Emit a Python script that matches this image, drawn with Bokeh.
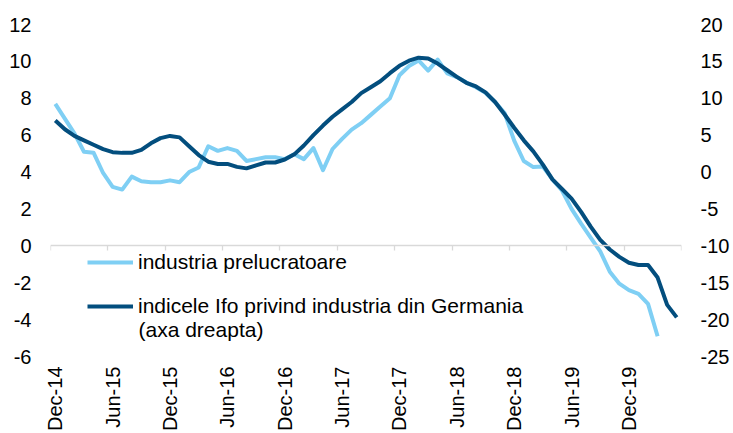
import math
from bokeh.plotting import figure
from bokeh.models import (Range1d, LinearAxis, FixedTicker, Legend, LegendItem, Label)
from bokeh.embed import file_html
from bokeh.resources import INLINE

# ---------------- data ----------------
n_months = 66          # Dec-14 .. May-20
label_step = 6
tick_labels = ["Dec-14", "Jun-15", "Dec-15", "Jun-16", "Dec-16", "Jun-17",
               "Dec-17", "Jun-18", "Dec-18", "Jun-19", "Dec-19"]
left_ticks = [-6, -4, -2, 0, 2, 4, 6, 8, 10, 12]
right_ticks = [-25, -20, -15, -10, -5, 0, 5, 10, 15, 20]

industria = [7.7, 6.9, 6.1, 5.1, 5.05, 3.95, 3.2, 3.05, 3.75, 3.5, 3.45, 3.45,
             3.55, 3.45, 4.0, 4.25, 5.4, 5.15, 5.3, 5.15, 4.6, 4.7, 4.8, 4.8,
             4.7, 4.97, 4.7, 5.3, 4.1, 5.25, 5.8, 6.3, 6.65, 7.1, 7.55, 8.0,
             9.25, 9.75, 10.05, 9.5, 10.1, 9.35, 9.15, 8.85, 8.6, 8.3, 7.8, 7.2,
             5.7, 4.6, 4.27, 4.3, 3.6, 3.0, 2.0, 1.2, 0.45, -0.3, -1.4, -2.05,
             -2.4, -2.6, -3.15, -4.9]

ifo = [7.0, 5.8, 4.9, 4.3, 3.7, 3.1, 2.7, 2.6, 2.6, 3.0, 3.9, 4.6,
       4.9, 4.7, 3.5, 2.3, 1.4, 1.1, 1.1, 0.7, 0.5, 0.9, 1.3, 1.3,
       1.7, 2.4, 3.6, 5.0, 6.3, 7.5, 8.5, 9.5, 10.7, 11.5, 12.3, 13.4,
       14.4, 15.1, 15.5, 15.4, 14.7, 13.8, 12.9, 12.1, 11.6, 10.8, 9.5, 7.8,
       6.0, 4.3, 2.8, 1.0, -1.0, -2.3, -3.6, -5.4, -7.4, -9.2, -10.5, -11.5,
       -12.3, -12.6, -12.6, -14.3, -18.0, -19.7]

name_industria = "industria prelucratoare"
name_ifo = "indicele Ifo privind industria din Germania"
name_ifo_2 = "(axa dreapta)"

# ---------------- style ----------------
FONT = "Liberation Sans"
LIGHT = "#7fcff4"
DARK = "#034e7e"
GRAY = "#d9d9d9"

p = figure(width=733, height=433, output_backend="svg", toolbar_location=None,
           x_range=Range1d(-0.5, n_months - 0.5),
           y_range=Range1d(left_ticks[0], left_ticks[-1]),
           min_border_left=50, min_border_right=52, min_border_top=24,
           min_border_bottom=76)
p.outline_line_color = None
p.xgrid.visible = False
p.ygrid.visible = False
p.background_fill_color = "white"
p.border_fill_color = "white"

p.extra_y_ranges = {"right": Range1d(right_ticks[0], right_ticks[-1])}


def style_value_axis(ax, ticks):
    ax.ticker = FixedTicker(ticks=ticks)
    ax.major_label_overrides = {t: str(t) for t in ticks}
    ax.axis_line_color = None
    ax.major_tick_line_color = None
    ax.minor_tick_line_color = None
    ax.major_tick_out = 0
    ax.major_tick_in = 0
    ax.major_label_standoff = 19
    ax.major_label_text_font = FONT
    ax.major_label_text_font_size = "20px"
    ax.major_label_text_color = "black"


style_value_axis(p.yaxis[0], left_ticks)
ra = LinearAxis(y_range_name="right")
style_value_axis(ra, right_ticks)
p.add_layout(ra, "right")

# bottom label axis
label_ticks = [i * label_step for i in range(len(tick_labels))]
xa = p.xaxis[0]
xa.ticker = FixedTicker(ticks=label_ticks)
xa.major_label_overrides = {t: l for t, l in zip(label_ticks, tick_labels)}
xa.major_label_orientation = math.pi / 2
xa.axis_line_color = None
xa.major_tick_line_color = None
xa.minor_tick_line_color = None
xa.major_tick_out = 0
xa.major_tick_in = 0
xa.major_label_standoff = 10
xa.major_label_text_font = FONT
xa.major_label_text_font_size = "20px"
xa.major_label_text_color = "black"

# zero line axis with boundary ticks
bound_ticks = [k - 0.5 for k in range(0, n_months + 1, label_step)]
za = LinearAxis(fixed_location=0, ticker=FixedTicker(ticks=bound_ticks))
za.major_label_overrides = {t: "" for t in bound_ticks}
za.axis_line_color = GRAY
za.axis_line_width = 1.3
za.major_tick_line_color = GRAY
za.major_tick_line_width = 1.3
za.minor_tick_line_color = None
za.major_tick_out = 5
za.major_tick_in = 0
p.add_layout(za, "below")

# lines
xs1 = list(range(len(industria)))
xs2 = list(range(len(ifo)))
r1 = p.line(xs1, industria, line_color=LIGHT, line_width=4, line_join="round")
r2 = p.line(xs2, ifo, line_color=DARK, line_width=4, line_join="round",
            y_range_name="right")

legend = Legend(items=[LegendItem(label=name_industria, renderers=[r1]),
                       LegendItem(label=name_ifo, renderers=[r2])],
                location=(37, 38))
legend.padding = 0
legend.margin = 0
legend.spacing = 20
legend.glyph_width = 46
legend.glyph_height = 24
legend.label_height = 24
legend.label_standoff = 5
legend.label_text_font = FONT
legend.label_text_font_size = "21px"
legend.label_text_color = "black"
legend.background_fill_alpha = 0
legend.border_line_color = None
p.add_layout(legend)

p.add_layout(Label(x=88, y=27, x_units="screen", y_units="screen", text=name_ifo_2,
                   text_font=FONT, text_font_size="21px", text_color="black",
                   text_baseline="middle"))

open("out.html", "w").write(file_html(p, INLINE))
